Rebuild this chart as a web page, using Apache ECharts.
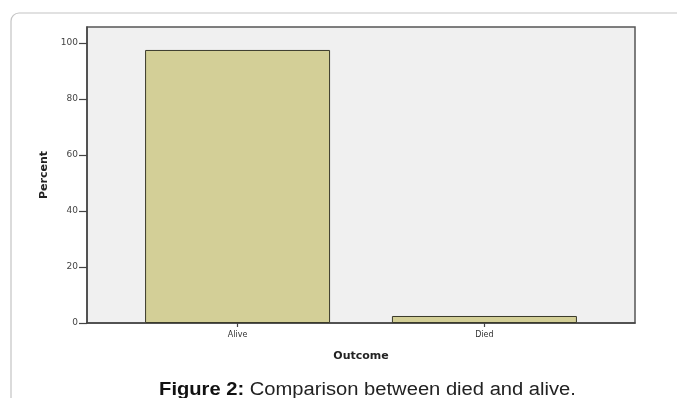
<!DOCTYPE html>
<html>
<head>
<meta charset="utf-8">
<script src="https://cdn.jsdelivr.net/npm/echarts@6/dist/echarts.min.js"></script>
<style>
html,body{margin:0;padding:0;background:#fff;}
#c{width:677px;height:398px;}
</style>
</head>
<body>
<div id="c"></div>
<script>
var categories = ['Alive', 'Died'];
var percentValues = [97.5, 2.5];
var yTicks = [0, 20, 40, 60, 80, 100];
var captionBold = 'Figure 2:';
var captionText = ' Comparison between died and alive.';

var positions = categories.map(function (c, i) { return i + 1; });
var barData = percentValues.map(function (v, i) { return [positions[i], v]; });

var chart = echarts.init(document.getElementById('c'), null, {renderer: 'canvas'});
chart.setOption({
  backgroundColor: '#ffffff',
  animation: false,
  graphic: [
    {
      type: 'rect', z: -10,
      shape: {x: 11, y: 13, width: 690, height: 420, r: 8},
      style: {fill: '#ffffff', stroke: '#c4c4c4', lineWidth: 1.2}
    },
    {
      type: 'text', x: 367.5, y: 390, scaleX: 1.12,
      style: {
        align: 'center', verticalAlign: 'middle',
        rich: {
          b: {fontFamily: 'Liberation Sans, Arial', fontSize: 18, fontWeight: 'bold', fill: '#111'},
          n: {fontFamily: 'Liberation Sans, Arial', fontSize: 18, fill: '#222'}
        },
        text: '{b|' + captionBold + '}{n|' + captionText + '}'
      }
    }
  ],
  grid: {
    left: 87, right: 42, top: 27, bottom: 75,
    show: true, backgroundColor: '#f0f0f0', borderColor: '#555555', borderWidth: 1.5
  },
  xAxis: {
    type: 'value',
    min: 0.39, max: 2.61,
    name: 'Outcome', nameLocation: 'middle', nameGap: 28,
    nameTextStyle: {fontFamily: 'DejaVu Sans', fontSize: 11, fontWeight: 'bold', color: '#222'},
    splitLine: {show: false},
    axisLine: {show: true, lineStyle: {color: '#444', width: 1.5}},
    axisTick: {show: true, customValues: positions, length: 4, inside: false, lineStyle: {color: '#444', width: 1.2}},
    axisLabel: {
      show: true, customValues: positions, margin: 8,
      fontFamily: 'DejaVu Sans', fontSize: 8, color: '#333',
      formatter: function (v) { return categories[Math.round(v) - 1] || ''; }
    }
  },
  yAxis: {
    type: 'value',
    min: 0, max: 105.7,
    name: 'Percent', nameLocation: 'middle', nameGap: 31, nameRotate: 90,
    nameTextStyle: {fontFamily: 'DejaVu Sans', fontSize: 11, fontWeight: 'bold', color: '#222'},
    splitLine: {show: false},
    axisLine: {show: true, lineStyle: {color: '#444', width: 1.5}},
    axisTick: {show: true, customValues: yTicks, length: 8, inside: false, lineStyle: {color: '#444', width: 1.2}},
    axisLabel: {
      show: true, customValues: yTicks, margin: 9,
      fontFamily: 'DejaVu Sans', fontSize: 9, color: '#444'
    }
  },
  series: [{
    type: 'bar',
    data: barData,
    barWidth: 185,
    itemStyle: {color: '#d3cf97', borderColor: '#3a3a2a', borderWidth: 1}
  }]
});
</script>
</body>
</html>
